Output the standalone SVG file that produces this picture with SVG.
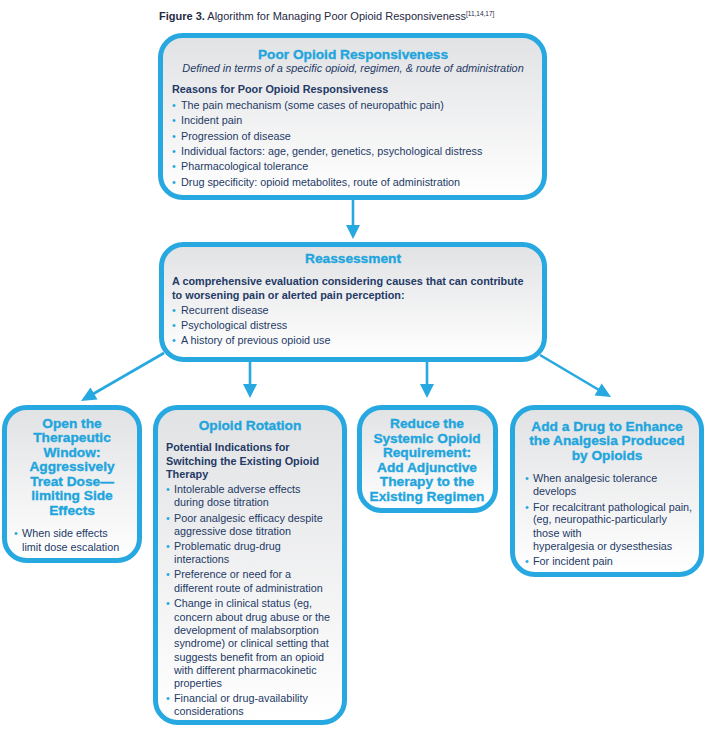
<svg xmlns="http://www.w3.org/2000/svg" width="705" height="729" viewBox="0 0 705 729">
<defs>
<linearGradient id="g" x1="0" y1="0" x2="0" y2="1">
<stop offset="0" stop-color="#e1e2e4"/>
<stop offset="1" stop-color="#ffffff"/>
</linearGradient>
</defs>
<style>
.box{fill:url(#g);stroke:#27a8e0;stroke-width:5}
.t{font-family:"Liberation Sans",Arial,sans-serif;font-weight:bold;font-size:13.7px;fill:#1ea5dd;stroke:#1ea5dd;stroke-width:0.35;text-anchor:middle}
.b{font-family:"Liberation Sans",Arial,sans-serif;font-size:10.8px;fill:#243a66}
.h{font-family:"Liberation Sans",Arial,sans-serif;font-weight:bold;font-size:10.85px;fill:#243a66}
.i{font-family:"Liberation Sans",Arial,sans-serif;font-style:italic;font-size:10.9px;fill:#243a66;text-anchor:middle}
.bl{fill:#27a8e0}
.c{font-family:"Liberation Sans",Arial,sans-serif;font-size:11px;fill:#1f2a44}
.conn line{stroke:#27a8e0;stroke-width:2.6}
.conn path{fill:#27a8e0}
</style>
<rect width="705" height="729" fill="#ffffff"/>
<text class="c" x="159" y="20"><tspan font-weight="bold">Figure 3.</tspan> Algorithm for Managing Poor Opioid Responsiveness<tspan font-size="6.5" dy="-4">[11,14,17]</tspan></text>

<g id="connectors" class="conn">
<line x1="353" y1="199" x2="353" y2="226"/>
<path d="M346,225 L360,225 L353,239 Z"/>
<line x1="250" y1="361" x2="250" y2="385"/>
<path d="M243,384 L257,384 L250,398 Z"/>
<line x1="427" y1="361" x2="427" y2="385"/>
<path d="M420,384 L434,384 L427,398 Z"/>
<line x1="164" y1="353" x2="93" y2="394"/>
<path d="M81,401 L97.5,399.5 L90.5,387.4 Z"/>
<line x1="540" y1="355" x2="599" y2="390"/>
<path d="M611,397 L594.5,395.4 L601.7,383.4 Z"/>
</g>

<g id="poor-opioid-responsiveness">
<rect class="box" x="160.5" y="35.5" width="384" height="162" rx="22"/>
<text class="t" x="353" y="59">Poor Opioid Responsiveness</text>
<text class="i" x="353" y="72">Defined in terms of a specific opioid, regimen, &amp; route of administration</text>
<text class="h" x="172" y="93">Reasons for Poor Opioid Responsiveness</text>
<text class="b" x="172" y="109"><tspan class="bl">•</tspan><tspan x="181">The pain mechanism (some cases of neuropathic pain)</tspan></text>
<text class="b" x="172" y="124"><tspan class="bl">•</tspan><tspan x="181">Incident pain</tspan></text>
<text class="b" x="172" y="139.5"><tspan class="bl">•</tspan><tspan x="181">Progression of disease</tspan></text>
<text class="b" x="172" y="155"><tspan class="bl">•</tspan><tspan x="181">Individual factors: age, gender, genetics, psychological distress</tspan></text>
<text class="b" x="172" y="170"><tspan class="bl">•</tspan><tspan x="181">Pharmacological tolerance</tspan></text>
<text class="b" x="172" y="186"><tspan class="bl">•</tspan><tspan x="181">Drug specificity: opioid metabolites, route of administration</tspan></text>
</g>

<g id="reassessment">
<rect class="box" x="161.5" y="244.5" width="383" height="115" rx="22"/>
<text class="t" x="353" y="263">Reassessment</text>
<text class="h" x="172" y="285">A comprehensive evaluation considering causes that can contribute</text>
<text class="h" x="172" y="299">to worsening pain or alerted pain perception:</text>
<text class="b" x="172" y="314"><tspan class="bl">•</tspan><tspan x="181">Recurrent disease</tspan></text>
<text class="b" x="172" y="329"><tspan class="bl">•</tspan><tspan x="181">Psychological distress</tspan></text>
<text class="b" x="172" y="344"><tspan class="bl">•</tspan><tspan x="181">A history of previous opioid use</tspan></text>
</g>

<g id="open-therapeutic-window">
<rect class="box" x="4.5" y="407.5" width="135" height="153" rx="22"/>
<text class="t" x="72" y="428">Open the</text>
<text class="t" x="72" y="442">Therapeutic</text>
<text class="t" x="72" y="456.5">Window:</text>
<text class="t" x="72" y="471">Aggressively</text>
<text class="t" x="72" y="486">Treat Dose—</text>
<text class="t" x="72" y="500">limiting Side</text>
<text class="t" x="72" y="515">Effects</text>
<text class="b" x="14" y="537"><tspan class="bl">•</tspan><tspan x="22">When side effects</tspan></text>
<text class="b" x="22" y="551">limit dose escalation</text>
</g>

<g id="opioid-rotation">
<rect class="box" x="155.5" y="407.5" width="189" height="315" rx="22"/>
<text class="t" x="250" y="430">Opioid Rotation</text>
<text class="h" x="166" y="451">Potential Indications for</text>
<text class="h" x="166" y="465">Switching the Existing Opioid</text>
<text class="h" x="166" y="478">Therapy</text>
<text class="b" x="166" y="493"><tspan class="bl">•</tspan><tspan x="174">Intolerable adverse effects</tspan></text>
<text class="b" x="174" y="506">during dose titration</text>
<text class="b" x="166" y="522"><tspan class="bl">•</tspan><tspan x="174">Poor analgesic efficacy despite</tspan></text>
<text class="b" x="174" y="535">aggressive dose titration</text>
<text class="b" x="166" y="550"><tspan class="bl">•</tspan><tspan x="174">Problematic drug-drug</tspan></text>
<text class="b" x="174" y="563">interactions</text>
<text class="b" x="166" y="578"><tspan class="bl">•</tspan><tspan x="174">Preference or need for a</tspan></text>
<text class="b" x="174" y="592">different route of administration</text>
<text class="b" x="166" y="607"><tspan class="bl">•</tspan><tspan x="174">Change in clinical status (eg,</tspan></text>
<text class="b" x="174" y="621">concern about drug abuse or the</text>
<text class="b" x="174" y="634">development of malabsorption</text>
<text class="b" x="174" y="647">syndrome) or clinical setting that</text>
<text class="b" x="174" y="661">suggests benefit from an opioid</text>
<text class="b" x="174" y="674">with different pharmacokinetic</text>
<text class="b" x="174" y="687">properties</text>
<text class="b" x="166" y="702"><tspan class="bl">•</tspan><tspan x="174">Financial or drug-availability</tspan></text>
<text class="b" x="174" y="715">considerations</text>
</g>

<g id="reduce-systemic-opioid">
<rect class="box" x="359.5" y="407.5" width="136" height="103" rx="22"/>
<text class="t" x="427" y="428">Reduce the</text>
<text class="t" x="427" y="443">Systemic Opioid</text>
<text class="t" x="427" y="457">Requirement:</text>
<text class="t" x="427" y="472">Add Adjunctive</text>
<text class="t" x="427" y="486">Therapy to the</text>
<text class="t" x="427" y="501">Existing Regimen</text>
</g>

<g id="add-drug-enhance">
<rect class="box" x="512.5" y="407.5" width="189" height="167" rx="22"/>
<text class="t" x="607" y="431">Add a Drug to Enhance</text>
<text class="t" x="607" y="445">the Analgesia Produced</text>
<text class="t" x="607" y="460">by Opioids</text>
<text class="b" x="525" y="482"><tspan class="bl">•</tspan><tspan x="533">When analgesic tolerance</tspan></text>
<text class="b" x="533" y="495">develops</text>
<text class="b" x="525" y="511"><tspan class="bl">•</tspan><tspan x="533">For recalcitrant pathological pain,</tspan></text>
<text class="b" x="533" y="523">(eg, neuropathic-particularly</text>
<text class="b" x="533" y="537">those with</text>
<text class="b" x="533" y="550">hyperalgesia or dysesthesias</text>
<text class="b" x="525" y="565"><tspan class="bl">•</tspan><tspan x="533">For incident pain</tspan></text>
</g>
</svg>
